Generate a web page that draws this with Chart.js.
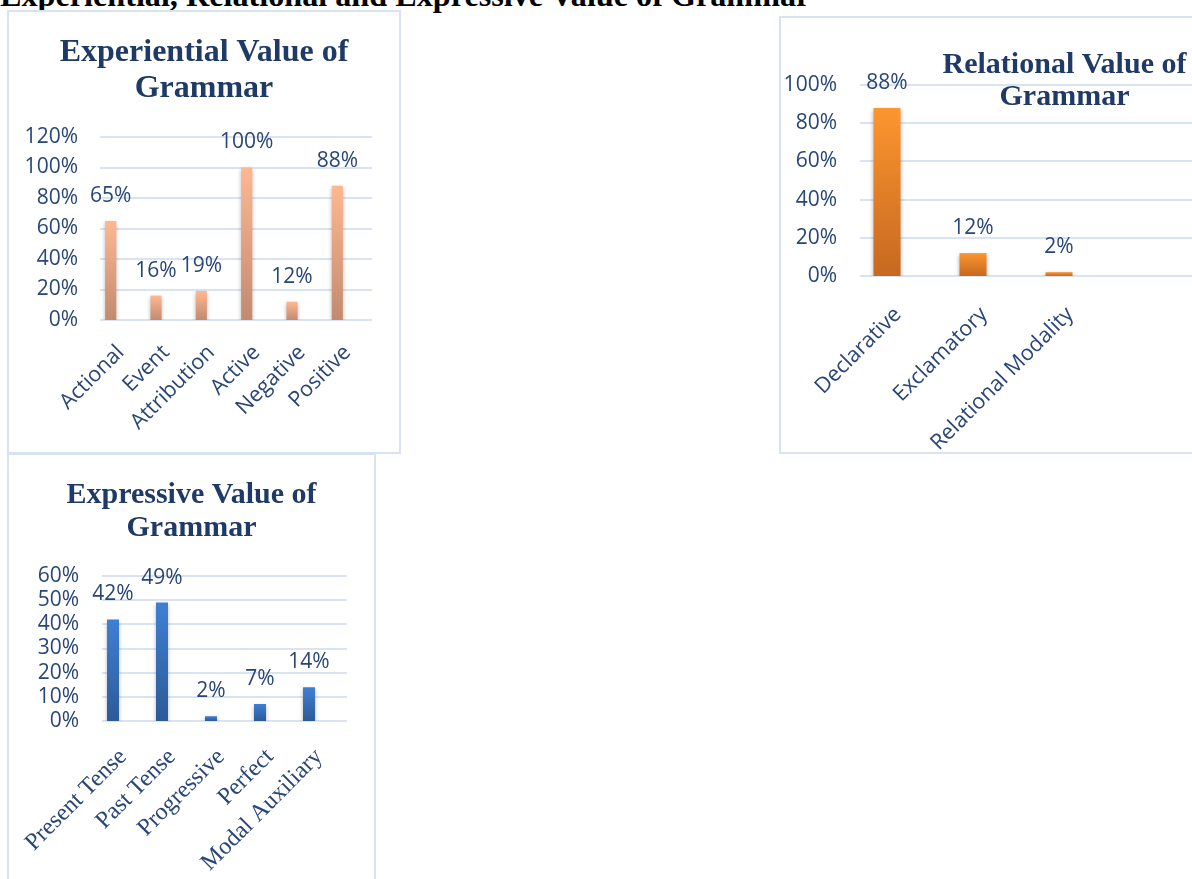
<!DOCTYPE html>
<html>
<head>
<meta charset="utf-8">
<script src="https://cdn.jsdelivr.net/npm/chart.js@4.4.0/dist/chart.umd.min.js"></script>
<style>
html,body{margin:0;padding:0;background:#fff;}
body{width:1192px;height:879px;position:relative;overflow:hidden;}
#heading{position:absolute;left:0;top:-21px;font:bold 32.2px "Liberation Serif","Times New Roman",serif;line-height:32px;color:#000;white-space:nowrap;}
.panel{position:absolute;border:2px solid #D7E3F3;box-sizing:border-box;background:#fff;}
.wrap{position:absolute;left:0;top:0;}
</style>
</head>
<body>
<div id="heading">Experiential, Relational and Expressive Value of Grammar</div>

<div class="panel" style="left:7px;top:10px;width:394px;height:444px;">
  <div class="wrap" style="width:390px;height:440px;"><canvas id="c1"></canvas></div>
</div>
<div class="panel" style="left:779px;top:16px;width:571px;height:438px;">
  <div class="wrap" style="width:567px;height:434px;"><canvas id="c2"></canvas></div>
</div>
<div class="panel" style="left:7px;top:453px;width:369px;height:450px;">
  <div class="wrap" style="width:365px;height:446px;"><canvas id="c3"></canvas></div>
</div>

<script>
// ---------------- DATA ----------------
const expTitle = ['Experiential Value of', 'Grammar'];
const expCategories = ['Actional', 'Event', 'Attribution', 'Active', 'Negative', 'Positive'];
const expValues = [65, 16, 19, 100, 12, 88];
const expAxisMax = 120;
const expAxisStep = 20;

const relTitle = ['Relational Value of', 'Grammar'];
const relCategories = ['Declarative', 'Exclamatory', 'Relational Modality'];
const relValues = [88, 12, 2];
const relAxisMax = 100;
const relAxisStep = 20;

const exprTitle = ['Expressive Value of', 'Grammar'];
const exprCategories = ['Present Tense', 'Past Tense', 'Progressive', 'Perfect', 'Modal Auxiliary'];
const exprValues = [42, 49, 2, 7, 14];
const exprAxisMax = 60;
const exprAxisStep = 10;

// ---------------- STYLE ----------------
const SANS = '"Open Sans", "Liberation Sans", sans-serif';
const SERIF = '"Liberation Serif", "Times New Roman", serif';
const TEXT = '#284677';
const TITLE = '#1F3A66';
const GRID = '#D8E4F3';

function barGradient(top, bottom) {
  return (c) => {
    if (c.type !== 'data' || !c.chart.chartArea || !c.parsed) return top;
    const y = c.chart.scales.y;
    const y0 = y.getPixelForValue(0);
    const y1 = y.getPixelForValue(c.parsed.y);
    if (!isFinite(y0) || !isFinite(y1) || y0 === y1) return top;
    const g = c.chart.ctx.createLinearGradient(0, y1, 0, y0);
    g.addColorStop(0, top);
    g.addColorStop(1, bottom);
    return g;
  };
}

const gridLines = {
  id: 'gridLines',
  beforeDatasetsDraw(chart, args, opts) {
    const {ctx, chartArea: a} = chart;
    const y = chart.scales.y;
    const x0 = a.left + (opts.start || 0);
    const x1 = opts.toEdge ? chart.width : a.right + (opts.end || 0);
    ctx.save();
    ctx.strokeStyle = GRID;
    ctx.lineWidth = 2;
    y.ticks.forEach((t, i) => {
      const py = Math.round(y.getPixelForTick(i));
      ctx.beginPath();
      ctx.moveTo(x0, py);
      ctx.lineTo(x1, py);
      ctx.stroke();
    });
    ctx.restore();
  }
};

const barShadow = {
  id: 'barShadow',
  beforeDatasetsDraw(chart) {
    const ctx = chart.ctx;
    ctx.save();
    ctx.shadowColor = 'rgba(0,0,0,0.28)';
    ctx.shadowBlur = 4;
    ctx.shadowOffsetY = 2;
  },
  afterDatasetsDraw(chart) {
    chart.ctx.restore();
  }
};

const valueLabels = {
  id: 'valueLabels',
  afterDatasetsDraw(chart, args, opts) {
    const ctx = chart.ctx;
    const meta = chart.getDatasetMeta(0);
    const data = chart.data.datasets[0].data;
    ctx.save();
    ctx.font = '21px ' + SANS;
    ctx.fillStyle = TEXT;
    ctx.textAlign = 'center';
    ctx.textBaseline = 'middle';
    meta.data.forEach((bar, i) => {
      ctx.fillText(data[i] + '%', bar.x, bar.y - opts.offset);
    });
    ctx.restore();
  }
};

function noPad(s) {
  s.paddingLeft = 0; s.paddingRight = 0; s.paddingTop = 0; s.paddingBottom = 0;
}

function makeChart(id, cfg) {
  return new Chart(document.getElementById(id), {
    type: 'bar',
    data: {
      labels: cfg.labels,
      datasets: [{
        data: cfg.values,
        backgroundColor: barGradient(cfg.top, cfg.bottom),
        borderWidth: 0,
        categoryPercentage: 1,
        barPercentage: cfg.barPct,
        yAxisID: 'y'
      }]
    },
    options: {
      responsive: true,
      maintainAspectRatio: false,
      animation: false,
      layout: {padding: 0},
      plugins: {
        legend: {display: false},
        tooltip: {enabled: false},
        title: {
          display: true,
          text: cfg.title,
          color: TITLE,
          align: 'center',
          font: {family: SERIF, size: cfg.titleSize, weight: 'bold', lineHeight: cfg.titleLH},
          padding: cfg.titlePad
        },
        gridLines: cfg.grid,
        valueLabels: {offset: 25}
      },
      scales: {
        x: {
          grid: {display: false, drawTicks: false},
          border: {display: false},
          ticks: {
            autoSkip: false, maxRotation: 45, minRotation: 45,
            padding: cfg.xPad, labelOffset: cfg.xOffset,
            color: TEXT,
            font: cfg.xFont
          },
          afterFit(s) { s.height = cfg.xHeight; noPad(s); }
        },
        y: {
          min: 0, max: cfg.max,
          grid: {display: false, drawTicks: false},
          border: {display: false},
          ticks: {
            autoSkip: false,
            stepSize: cfg.step,
            padding: cfg.yPad,
            color: TEXT,
            font: {family: SANS, size: 21},
            callback: (v) => v + '%'
          },
          afterFit(s) { s.width = cfg.yWidth; noPad(s); }
        },
        gap: {
          type: 'linear',
          position: 'right',
          display: true,
          grid: {display: false, drawTicks: false},
          border: {display: false},
          ticks: {display: false},
          afterFit(s) { s.width = cfg.rightGap; noPad(s); }
        }
      }
    },
    plugins: [gridLines, barShadow, valueLabels]
  });
}

makeChart('c1', {
  labels: expCategories, values: expValues, max: expAxisMax, step: expAxisStep,
  top: '#FEB891', bottom: '#C28A70', barPct: 0.245,
  rightGap: 39,
  title: expTitle, titleSize: 32, titleLH: 36 / 32, titlePad: {top: 22.3, bottom: 30.7},
  grid: {start: 12, end: 12},
  xPad: 20, xOffset: 10, xHeight: 132, xFont: {family: SANS, size: 21.5},
  yPad: 10, yWidth: 79
});

makeChart('c2', {
  labels: relCategories, values: relValues, max: relAxisMax, step: relAxisStep,
  top: '#FC962F', bottom: '#C66820', barPct: 0.314,
  rightGap: 246,
  title: relTitle, titleSize: 30, titleLH: 32 / 30, titlePad: {top: 30.8, bottom: -27.8},
  grid: {start: 16, toEdge: true},
  xPad: 26, xOffset: 11, xHeight: 176, xFont: {family: SANS, size: 21.5},
  yPad: 7, yWidth: 63
});

makeChart('c3', {
  labels: exprCategories, values: exprValues, max: exprAxisMax, step: exprAxisStep,
  top: '#3F80D4', bottom: '#2C5A97', barPct: 0.245,
  rightGap: 40.5,
  title: exprTitle, titleSize: 30, titleLH: 33 / 30, titlePad: {top: 23.3, bottom: 31.7},
  grid: {start: 13.5, end: 13.5},
  xPad: 22, xOffset: 10, xHeight: 180, xFont: {family: SERIF, size: 24},
  yPad: 9.5, yWidth: 79.5
});
</script>
</body>
</html>
